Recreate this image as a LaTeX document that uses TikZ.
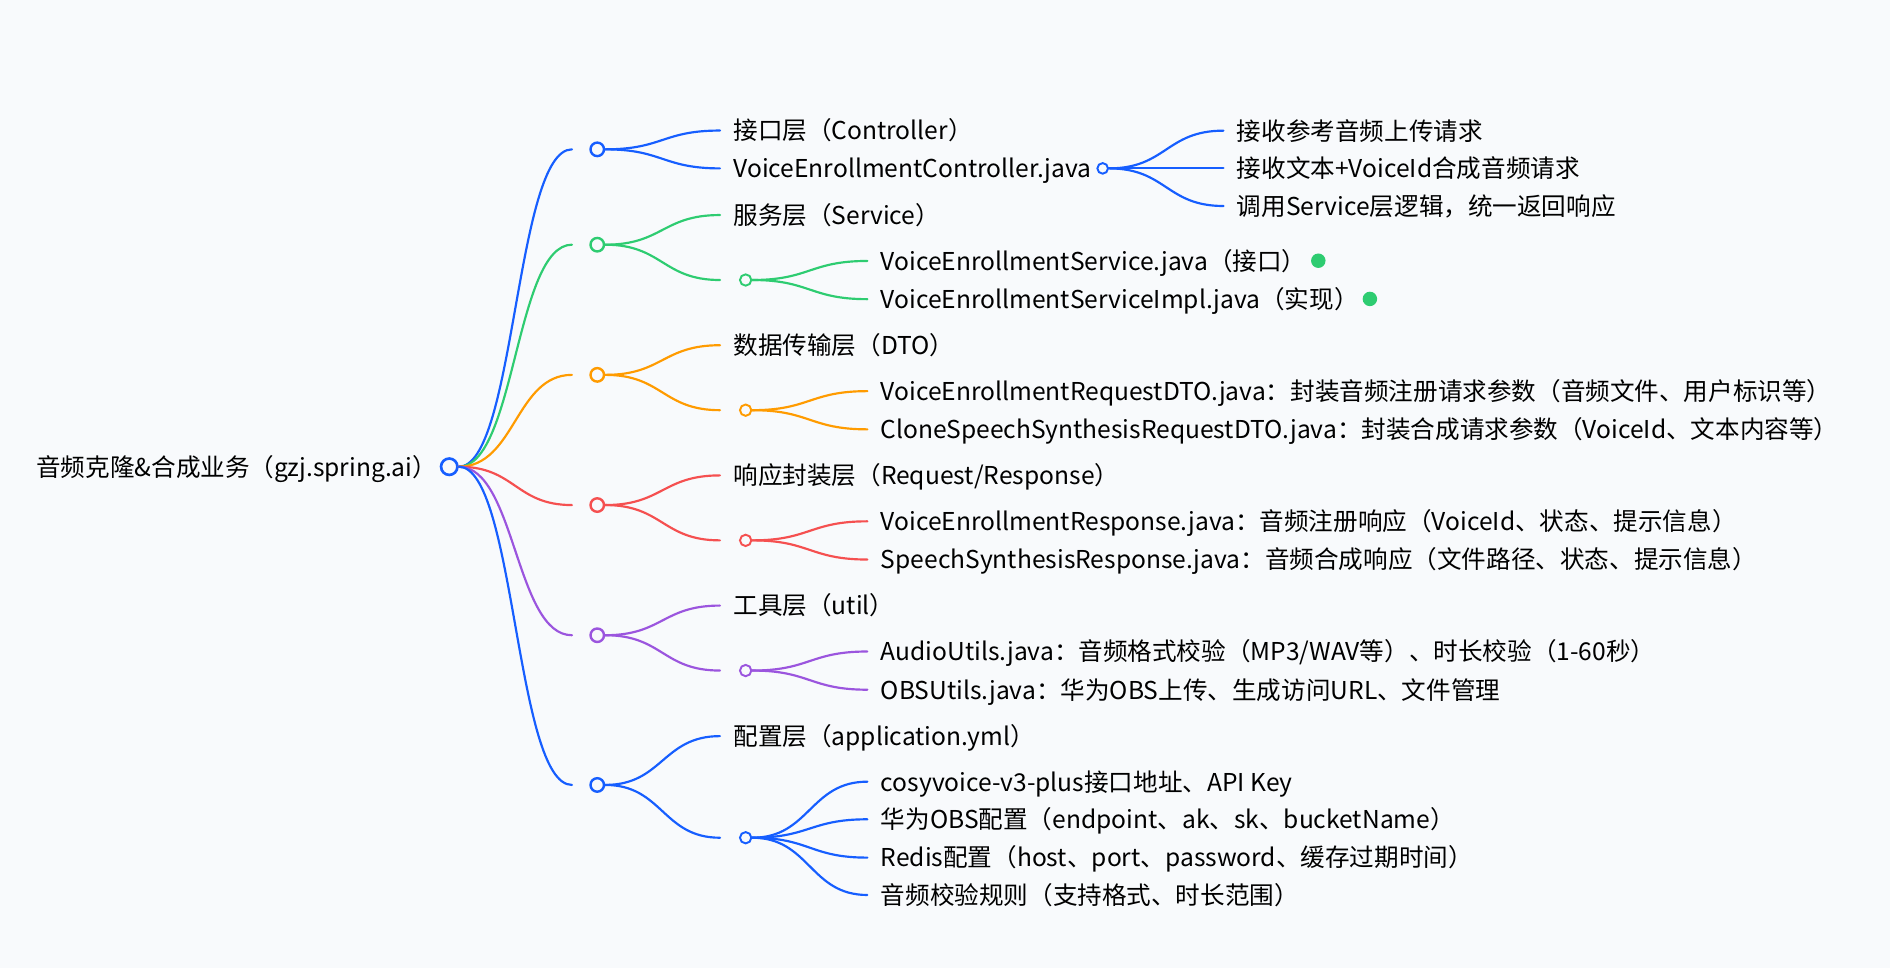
\documentclass[tikz,border=0pt]{standalone}
\usepackage{fontspec}
\setmainfont{Noto Sans CJK SC}
\usetikzlibrary{calc}

\definecolor{bg}{RGB}{248,250,252}
\definecolor{cblue}{RGB}{22,94,255}
\definecolor{cgreen}{RGB}{46,204,113}
\definecolor{corange}{RGB}{255,155,0}
\definecolor{cred}{RGB}{245,80,80}
\definecolor{cpurple}{RGB}{155,85,222}

\tikzset{
  lbl/.style={anchor=west, inner xsep=11pt, inner ysep=0pt, text height=18pt, text depth=2.5pt},
  hub/.style={circle, draw=#1, fill=bg, line width=1.6pt, inner sep=0pt, minimum size=9.4pt},
  twig/.style={line width=1.8pt, draw=#1, line cap=round},
}
\newcommand{\mmlink}[3]{%
  \path ($(#2)!0.5!(#3)$) coordinate (mid);
  \draw[twig=#1] (#2) .. controls (mid |- #2) and (mid |- #3) .. (#3);}

\begin{document}
\begin{tikzpicture}[x=1pt, y=-1pt, font=\fontsize{20.4}{23}\selectfont]
    \fill[bg] (0,0) rectangle (1568,803);
    \node[lbl, inner xsep=0pt] (rtext) at (30,387.2) {音频克隆\&合成业务（gzj.spring.ai）};
    \node[hub=cblue, line width=2.2pt, minimum size=13.6pt] (root) at (372.7,387.2) {};
    % one hub per layer
    \foreach \n/\y/\c in {1/123.9/cblue, 2/203/cgreen, 3/311/corange, 4/419/cred, 5/527/cpurple, 6/651.2/cblue} {
        \node[hub=\c, line width=2pt, minimum size=11.2pt] (k\n) at (495.5,\y) {};
        \coordinate (k\n-in) at (474.5,\y);
        \mmlink{\c}{root.east}{k\n-in}
    }
    % controller layer
    \node[lbl] (c1) at (597.3,108.3) {接口层（Controller）};
    \node[lbl] (c2) at (597.3,139.7) {VoiceEnrollmentController.java};
    \node[hub=cblue, minimum size=8.8pt] (cc) at (914.8,139.7) {};
    \mmlink{cblue}{k1.east}{c1.west}
    \mmlink{cblue}{k1.east}{c2.west}
    \foreach \i/\y/\t in {1/108.4/接收参考音频上传请求, 2/139.7/接收文本+VoiceId合成音频请求, 3/170.9/调用Service层逻辑，统一返回响应} {
        \node[lbl] (d\i) at (1015,\y) {\t};
        \mmlink{cblue}{cc.east}{d\i.west}
    }
    % service, dto, response and util layers
    \foreach \n/\c/\o/\t/\a/\b in {
        2/cgreen/0/{服务层（Service）}/{VoiceEnrollmentService.java（接口）}/{VoiceEnrollmentServiceImpl.java（实现）},
        3/corange/108/{数据传输层（DTO）}/{VoiceEnrollmentRequestDTO.java：封装音频注册请求参数（音频文件、用户标识等）}/{CloneSpeechSynthesisRequestDTO.java：封装合成请求参数（VoiceId、文本内容等）},
        4/cred/216/{响应封装层（Request/Response）}/{VoiceEnrollmentResponse.java：音频注册响应（VoiceId、状态、提示信息）}/{SpeechSynthesisResponse.java：音频合成响应（文件路径、状态、提示信息）},
        5/cpurple/324/{工具层（util）}/{AudioUtils.java：音频格式校验（MP3/WAV等）、时长校验（1-60秒）}/{OBSUtils.java：华为OBS上传、生成访问URL、文件管理}} {
        \node[lbl] (t\n) at (597.3,{178.4+\o}) {\t};
        \node[hub=\c] (h\n) at (618.6,{232.3+\o}) {};
        \coordinate (h\n-in) at (597.3,{232.3+\o});
        \node[lbl] (a\n) at (719.6,{216.5+\o}) {\a};
        \node[lbl] (b\n) at (719.6,{248.2+\o}) {\b};
        \mmlink{\c}{k\n.east}{t\n.west}
        \mmlink{\c}{k\n.east}{h\n-in}
        \mmlink{\c}{h\n.east}{a\n.west}
        \mmlink{\c}{h\n.east}{b\n.west}
    }
    \fill[cgreen] (1093.7,216.3) circle (6pt);
    \fill[cgreen] (1136.5,248) circle (6pt);
    % config layer
    \node[lbl] (g0) at (597.3,610.7) {配置层（application.yml）};
    \node[hub=cblue] (h6) at (618.6,695) {};
    \coordinate (h6-in) at (597.3,695);
    \mmlink{cblue}{k6.east}{g0.west}
    \mmlink{cblue}{k6.east}{h6-in}
    \foreach \i/\y/\t in {1/648.5/{cosyvoice-v3-plus接口地址、API Key}, 2/679.7/{华为OBS配置（endpoint、ak、sk、bucketName）}, 3/711.5/{Redis配置（host、port、password、缓存过期时间）}, 4/742.5/{音频校验规则（支持格式、时长范围）}} {
        \node[lbl] (g\i) at (719.6,\y) {\t};
        \mmlink{cblue}{h6.east}{g\i.west}
    }
\end{tikzpicture}
\end{document}
